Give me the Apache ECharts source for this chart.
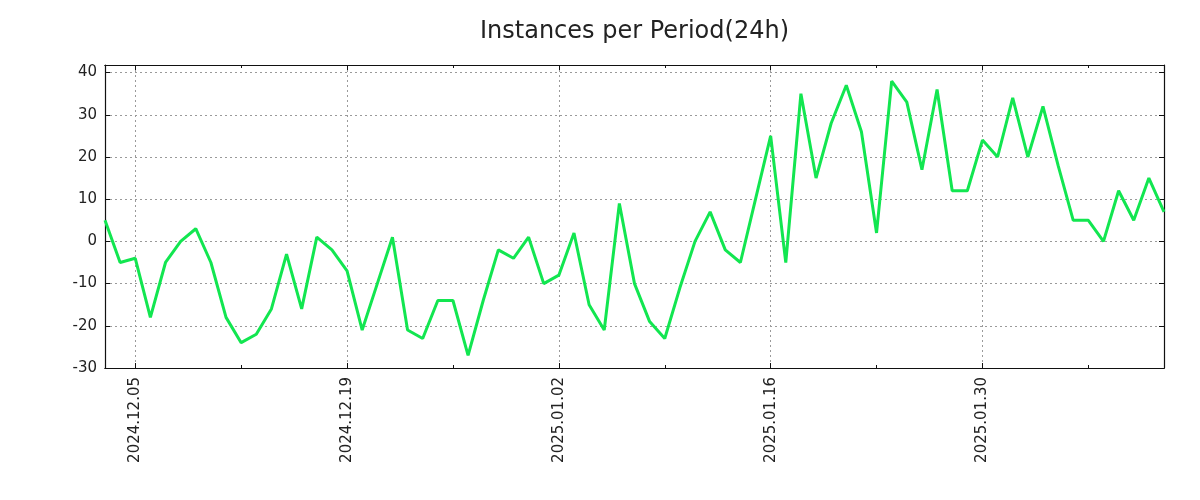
<!DOCTYPE html>
<html>
<head>
<meta charset="utf-8">
<script src="https://cdn.jsdelivr.net/npm/echarts@6/dist/echarts.min.js"></script>
<style>html,body{margin:0;padding:0;background:#fff}#c{width:1200px;height:500px}</style>
</head>
<body>
<div id="c"></div>
<script>
// Daily dates 2024.12.03 .. 2025.02.11
var dates = [
 '2024.12.03','2024.12.04','2024.12.05','2024.12.06','2024.12.07','2024.12.08','2024.12.09','2024.12.10','2024.12.11','2024.12.12',
 '2024.12.13','2024.12.14','2024.12.15','2024.12.16','2024.12.17','2024.12.18','2024.12.19','2024.12.20','2024.12.21','2024.12.22',
 '2024.12.23','2024.12.24','2024.12.25','2024.12.26','2024.12.27','2024.12.28','2024.12.29','2024.12.30','2024.12.31','2025.01.01',
 '2025.01.02','2025.01.03','2025.01.04','2025.01.05','2025.01.06','2025.01.07','2025.01.08','2025.01.09','2025.01.10','2025.01.11',
 '2025.01.12','2025.01.13','2025.01.14','2025.01.15','2025.01.16','2025.01.17','2025.01.18','2025.01.19','2025.01.20','2025.01.21',
 '2025.01.22','2025.01.23','2025.01.24','2025.01.25','2025.01.26','2025.01.27','2025.01.28','2025.01.29','2025.01.30','2025.01.31',
 '2025.02.01','2025.02.02','2025.02.03','2025.02.04','2025.02.05','2025.02.06','2025.02.07','2025.02.08','2025.02.09','2025.02.10',
 '2025.02.11'
];
var instances = [
 5,-5,-4,-18,-5,0,3,-5,-18,-24,
 -22,-16,-3,-16,1,-2,-7,-21,-10,1,
 -21,-23,-14,-14,-27,-14,-2,-4,1,-10,
 -8,2,-15,-21,9,-10,-19,-23,-11,0,
 7,-2,-5,10,25,-5,35,15,28,37,
 26,2,38,33,17,36,12,12,24,20,
 34,20,32,18,5,5,0,12,5,15,
 7
];
var yTicks = [-30,-20,-10,0,10,20,30,40];

var FONT = 'DejaVu Sans';
var TXT = '#222';
var gridLine = {show:true, lineStyle:{color:'#9a9a9a', width:1, type:[2,3]}};
function majorIdx(i){ return (i - 2) % 14 === 0; }
function minorIdx(i){ return (i - 2) % 14 === 7; }
function xAxisDef(pos, kind){
  var a = {
    type:'category', data:dates, boundaryGap:false, position:pos,
    axisLine:{show:true, onZero:false, lineStyle:{color:'#111', width:1.2}},
    axisTick:{show:true, inside:true, alignWithLabel:true, length: kind==='major'?5:3,
      interval: function(i){ return kind==='major'? majorIdx(i) : minorIdx(i); },
      lineStyle:{color:'#111', width:1}},
    axisLabel:{show:false},
    splitLine:{show:false}
  };
  if (pos==='bottom' && kind==='major'){
    a.axisLabel = {show:true, rotate:90, fontFamily:FONT, fontSize:15, color:TXT, margin:9,
      interval: function(i){ return majorIdx(i); }};
    a.splitLine = {show:true, interval:function(i){ return majorIdx(i); }, lineStyle:gridLine.lineStyle};
  }
  return a;
}
function yAxisDef(pos, labels){
  return {
    type:'value', min:-30, max:41.8, interval:10, position:pos,
    axisLine:{show:true, lineStyle:{color:'#111', width:1.2}},
    axisTick:{show:true, inside:true, length:5, lineStyle:{color:'#111', width:1}},
    axisLabel:{show:labels, fontFamily:FONT, fontSize:15, color:TXT, margin:8, showMaxLabel:false,
      formatter:function(v){ return yTicks.indexOf(v) >= 0 ? String(v) : ''; }},
    splitLine: labels ? {show:true, showMaxLine:false, lineStyle:gridLine.lineStyle} : {show:false}
  };
}
var chart = echarts.init(document.getElementById('c'), null, {renderer:'canvas'});
chart.setOption({
  animation:false,
  backgroundColor:'#fff',
  title:{text:'Instances per Period(24h)', left:629.5, textAlign:'center', top:15,
    textStyle:{fontFamily:FONT, fontSize:24, fontWeight:'normal', color:TXT}},
  grid:{left:105, right:36, top:65, bottom:132, containLabel:false, outerBoundsMode:'none'},
  xAxis:[xAxisDef('bottom','major'), xAxisDef('bottom','minor'), xAxisDef('top','major'), xAxisDef('top','minor')],
  yAxis:[yAxisDef('left', true), yAxisDef('right', false)],
  series:[{
    type:'line', data:instances, xAxisIndex:0, yAxisIndex:0,
    showSymbol:false, symbol:'none',
    lineStyle:{color:'#12e650', width:3}, z:5
  }]
});
</script>
</body>
</html>
